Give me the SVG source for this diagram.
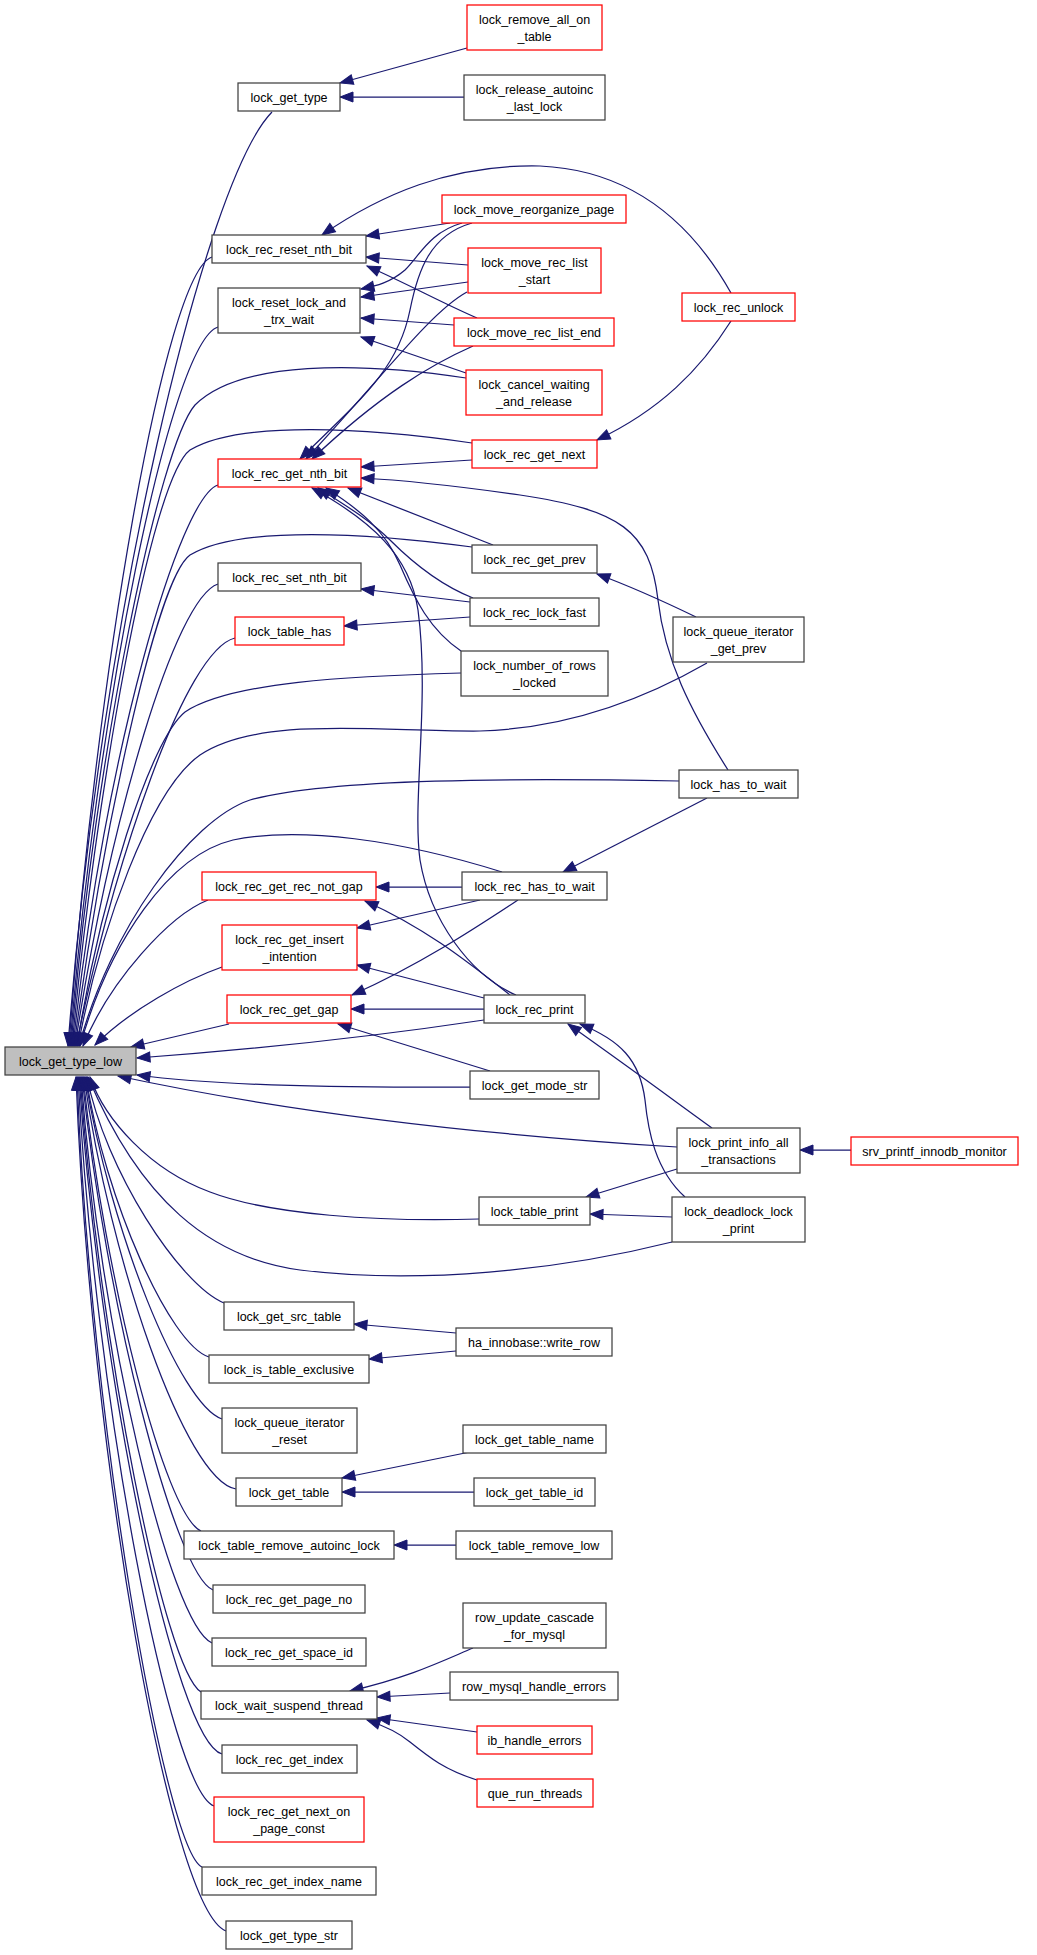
<svg xmlns="http://www.w3.org/2000/svg" width="1037" height="1955" viewBox="0 0 1037 1955">
<defs>
<style>
.n rect{fill:#ffffff;stroke:#404040;stroke-width:1.25}
.n.r rect{stroke:#ff0000}
.n.root rect{fill:#bfbfbf}
.n text{font-family:"Liberation Sans",Arial,Helvetica,sans-serif;font-size:12.5px;fill:#000000;text-anchor:middle}
#connectors path{fill:none;stroke:#191970;stroke-width:1.25;marker-end:url(#arr)}
</style>
<marker id="arr" markerUnits="userSpaceOnUse" viewBox="0 0 13 10" markerWidth="13" markerHeight="10" refX="13" refY="5" orient="auto" overflow="visible">
<path d="M0,0 L13,5 L0,10 z" fill="#191970" stroke="#191970" stroke-width="1"/>
</marker>
</defs>
<rect x="0" y="0" width="1037" height="1955" fill="#ffffff"/>
<g id="connectors">
<!-- to root, from above -->
<path d="M272,112 C205,180 100,620 68,1046"/>
<path d="M212,257 C165,272 95,680 69,1046"/>
<path d="M218,327 C170,342 95,720 70,1046"/>
<path d="M466,378 C360,362 240,360 195,405 C160,445 95,750 71,1046"/>
<path d="M472,443 C370,428 240,420 190,450 C150,480 95,800 72,1046"/>
<path d="M218,485 C180,497 105,750 73,1046"/>
<path d="M472,547 C370,533 240,525 190,555 C155,580 100,850 74,1046"/>
<path d="M218,584 C175,598 110,820 75,1046"/>
<path d="M235,638 C185,650 115,860 76,1046"/>
<path d="M461,673 C350,676 230,682 185,712 C150,740 100,900 77,1046"/>
<path d="M707,663 C660,690 580,728 480,731 C380,732 260,715 200,755 C150,790 100,930 78,1046"/>
<path d="M679,781 C520,778 330,778 250,800 C190,820 110,930 79,1046"/>
<path d="M502,872 C400,840 300,826 233,840 C170,855 110,940 80,1046"/>
<path d="M208,900 C170,915 110,980 83,1046"/>
<path d="M222,967 C185,980 130,1010 95,1045"/>
<path d="M229,1024 L131,1047"/>
<path d="M484,1020 C350,1040 220,1052 137,1058"/>
<!-- to root, from below -->
<path d="M470,1087 C350,1088 220,1086 137,1075"/>
<path d="M677,1147 C500,1136 300,1115 118,1076"/>
<path d="M479,1219 C380,1222 270,1215 210,1192 C150,1170 105,1120 90,1077"/>
<path d="M672,1242 C560,1270 420,1285 300,1270 C210,1258 140,1200 88,1077"/>
<path d="M224,1303 C180,1285 105,1170 87,1077"/>
<path d="M209,1357 C170,1345 105,1200 86,1077"/>
<path d="M222,1419 C180,1405 110,1230 85,1077"/>
<path d="M236,1489 C185,1480 110,1260 84,1077"/>
<path d="M201,1531 C165,1515 105,1280 83,1077"/>
<path d="M213,1590 C175,1575 105,1300 82,1077"/>
<path d="M212,1643 C170,1625 100,1330 81,1077"/>
<path d="M201,1692 C165,1670 100,1350 80,1077"/>
<path d="M222,1754 C175,1740 100,1380 79,1077"/>
<path d="M214,1806 C170,1790 95,1400 78,1077"/>
<path d="M202,1867 C165,1850 90,1420 77,1077"/>
<path d="M226,1931 C170,1910 90,1450 76,1077"/>
<!-- other edges -->
<path d="M467,48 L340,83"/>
<path d="M464,97 L340,97"/>
<path d="M731,293 C690,220 630,170 540,166 C450,164 380,195 322,235"/>
<path d="M450,223 L366,236"/>
<path d="M468,265 L366,257"/>
<path d="M477,318 C440,302 410,285 367,266"/>
<path d="M462,223 C430,232 420,255 405,270 C390,283 375,286 361,289"/>
<path d="M468,282 L361,297"/>
<path d="M454,325 L361,318"/>
<path d="M466,373 L361,337"/>
<path d="M472,223 C430,235 418,270 410,310 C398,370 360,400 300,459"/>
<path d="M467,292 C430,312 380,380 306,459"/>
<path d="M473,346 C430,365 380,395 312,459"/>
<path d="M472,460 L361,467"/>
<path d="M728,770 C690,710 665,660 658,600 C650,530 620,510 520,495 C450,485 400,480 361,478"/>
<path d="M731,321 C700,370 660,410 597,440"/>
<path d="M493,545 L348,488"/>
<path d="M473,598 C440,585 410,560 390,540 C370,520 345,505 318,488"/>
<path d="M461,651 C430,630 415,600 400,565 C385,530 360,510 326,488"/>
<path d="M516,995 C470,975 430,920 420,860 C412,800 430,700 418,610 C410,555 370,520 312,488"/>
<path d="M696,617 C665,602 635,588 597,574"/>
<path d="M470,602 L361,589"/>
<path d="M470,617 L344,626"/>
<path d="M462,887 L376,887"/>
<path d="M480,900 L357,928"/>
<path d="M518,900 C480,925 420,965 352,995"/>
<path d="M707,798 L563,872"/>
<path d="M510,995 C475,968 430,930 365,901"/>
<path d="M484,998 L357,965"/>
<path d="M484,1009 L351,1009"/>
<path d="M490,1071 L338,1024"/>
<path d="M712,1128 C680,1105 640,1075 568,1024"/>
<path d="M685,1197 C655,1170 648,1130 645,1100 C640,1060 620,1040 580,1024"/>
<path d="M851,1150 L800,1150"/>
<path d="M677,1169 L586,1197"/>
<path d="M672,1217 L590,1214"/>
<path d="M456,1333 L354,1324"/>
<path d="M456,1351 L369,1359"/>
<path d="M470,1452 L342,1478"/>
<path d="M474,1492 L342,1492"/>
<path d="M456,1545 L394,1545"/>
<path d="M473,1648 C440,1662 410,1677 350,1691"/>
<path d="M450,1693 L377,1697"/>
<path d="M477,1732 L377,1718"/>
<path d="M477,1780 C445,1770 430,1758 410,1742 C398,1732 385,1726 367,1720"/>
</g>
<g id="node_lock_get_type_low" class="n root"><rect x="5" y="1047" width="131" height="28"/><text x="70.5" y="1065.5">lock_get_type_low</text></g>
<g id="node_lock_get_type" class="n"><rect x="238" y="83" width="102" height="28"/><text x="289" y="101.5">lock_get_type</text></g>
<g id="node_lock_remove_all_on_table" class="n r"><rect x="467" y="5" width="135" height="45"/><text x="534.5" y="23.5">lock_remove_all_on</text><text x="534.5" y="40.5">_table</text></g>
<g id="node_lock_release_autoinc_last_lock" class="n"><rect x="464" y="75" width="141" height="45"/><text x="534.5" y="93.5">lock_release_autoinc</text><text x="534.5" y="110.5">_last_lock</text></g>
<g id="node_lock_rec_reset_nth_bit" class="n"><rect x="212" y="235" width="154" height="28"/><text x="289" y="253.5">lock_rec_reset_nth_bit</text></g>
<g id="node_lock_reset_lock_and_trx_wait" class="n"><rect x="218" y="288" width="142" height="45"/><text x="289" y="306.5">lock_reset_lock_and</text><text x="289" y="323.5">_trx_wait</text></g>
<g id="node_lock_move_reorganize_page" class="n r"><rect x="442" y="195" width="184" height="28"/><text x="534" y="213.5">lock_move_reorganize_page</text></g>
<g id="node_lock_move_rec_list_start" class="n r"><rect x="468" y="248" width="133" height="45"/><text x="534.5" y="266.5">lock_move_rec_list</text><text x="534.5" y="283.5">_start</text></g>
<g id="node_lock_move_rec_list_end" class="n r"><rect x="454" y="318" width="160" height="28"/><text x="534" y="336.5">lock_move_rec_list_end</text></g>
<g id="node_lock_cancel_waiting_and_release" class="n r"><rect x="466" y="370" width="136" height="45"/><text x="534" y="388.5">lock_cancel_waiting</text><text x="534" y="405.5">_and_release</text></g>
<g id="node_lock_rec_unlock" class="n r"><rect x="682" y="293" width="113" height="28"/><text x="738.5" y="311.5">lock_rec_unlock</text></g>
<g id="node_lock_rec_get_nth_bit" class="n r"><rect x="218" y="459" width="143" height="28"/><text x="289.5" y="477.5">lock_rec_get_nth_bit</text></g>
<g id="node_lock_rec_get_next" class="n r"><rect x="472" y="440" width="125" height="28"/><text x="534.5" y="458.5">lock_rec_get_next</text></g>
<g id="node_lock_rec_get_prev" class="n"><rect x="472" y="545" width="125" height="28"/><text x="534.5" y="563.5">lock_rec_get_prev</text></g>
<g id="node_lock_rec_set_nth_bit" class="n"><rect x="218" y="563" width="143" height="28"/><text x="289.5" y="581.5">lock_rec_set_nth_bit</text></g>
<g id="node_lock_rec_lock_fast" class="n"><rect x="470" y="598" width="129" height="28"/><text x="534.5" y="616.5">lock_rec_lock_fast</text></g>
<g id="node_lock_table_has" class="n r"><rect x="235" y="617" width="109" height="28"/><text x="289.5" y="635.5">lock_table_has</text></g>
<g id="node_lock_number_of_rows_locked" class="n"><rect x="461" y="651" width="147" height="45"/><text x="534.5" y="669.5">lock_number_of_rows</text><text x="534.5" y="686.5">_locked</text></g>
<g id="node_lock_queue_iterator_get_prev" class="n"><rect x="673" y="617" width="131" height="45"/><text x="738.5" y="635.5">lock_queue_iterator</text><text x="738.5" y="652.5">_get_prev</text></g>
<g id="node_lock_has_to_wait" class="n"><rect x="679" y="770" width="119" height="28"/><text x="738.5" y="788.5">lock_has_to_wait</text></g>
<g id="node_lock_rec_get_rec_not_gap" class="n r"><rect x="202" y="872" width="174" height="28"/><text x="289" y="890.5">lock_rec_get_rec_not_gap</text></g>
<g id="node_lock_rec_has_to_wait" class="n"><rect x="462" y="872" width="145" height="28"/><text x="534.5" y="890.5">lock_rec_has_to_wait</text></g>
<g id="node_lock_rec_get_insert_intention" class="n r"><rect x="222" y="925" width="135" height="45"/><text x="289.5" y="943.5">lock_rec_get_insert</text><text x="289.5" y="960.5">_intention</text></g>
<g id="node_lock_rec_get_gap" class="n r"><rect x="227" y="995" width="124" height="28"/><text x="289" y="1013.5">lock_rec_get_gap</text></g>
<g id="node_lock_rec_print" class="n"><rect x="484" y="995" width="101" height="28"/><text x="534.5" y="1013.5">lock_rec_print</text></g>
<g id="node_lock_get_mode_str" class="n"><rect x="470" y="1071" width="129" height="28"/><text x="534.5" y="1089.5">lock_get_mode_str</text></g>
<g id="node_lock_print_info_all_transactions" class="n"><rect x="677" y="1128" width="123" height="45"/><text x="738.5" y="1146.5">lock_print_info_all</text><text x="738.5" y="1163.5">_transactions</text></g>
<g id="node_srv_printf_innodb_monitor" class="n r"><rect x="851" y="1137" width="167" height="28"/><text x="934.5" y="1155.5">srv_printf_innodb_monitor</text></g>
<g id="node_lock_table_print" class="n"><rect x="479" y="1197" width="111" height="28"/><text x="534.5" y="1215.5">lock_table_print</text></g>
<g id="node_lock_deadlock_lock_print" class="n"><rect x="672" y="1197" width="133" height="45"/><text x="738.5" y="1215.5">lock_deadlock_lock</text><text x="738.5" y="1232.5">_print</text></g>
<g id="node_lock_get_src_table" class="n"><rect x="224" y="1302" width="130" height="28"/><text x="289" y="1320.5">lock_get_src_table</text></g>
<g id="node_ha_innobase_write_row" class="n"><rect x="456" y="1328" width="156" height="28"/><text x="534" y="1346.5">ha_innobase::write_row</text></g>
<g id="node_lock_is_table_exclusive" class="n"><rect x="209" y="1355" width="160" height="28"/><text x="289" y="1373.5">lock_is_table_exclusive</text></g>
<g id="node_lock_queue_iterator_reset" class="n"><rect x="222" y="1408" width="135" height="45"/><text x="289.5" y="1426.5">lock_queue_iterator</text><text x="289.5" y="1443.5">_reset</text></g>
<g id="node_lock_get_table_name" class="n"><rect x="463" y="1425" width="143" height="28"/><text x="534.5" y="1443.5">lock_get_table_name</text></g>
<g id="node_lock_get_table" class="n"><rect x="236" y="1478" width="106" height="28"/><text x="289" y="1496.5">lock_get_table</text></g>
<g id="node_lock_get_table_id" class="n"><rect x="474" y="1478" width="121" height="28"/><text x="534.5" y="1496.5">lock_get_table_id</text></g>
<g id="node_lock_table_remove_autoinc_lock" class="n"><rect x="184" y="1531" width="210" height="28"/><text x="289" y="1549.5">lock_table_remove_autoinc_lock</text></g>
<g id="node_lock_table_remove_low" class="n"><rect x="456" y="1531" width="156" height="28"/><text x="534" y="1549.5">lock_table_remove_low</text></g>
<g id="node_lock_rec_get_page_no" class="n"><rect x="213" y="1585" width="152" height="28"/><text x="289" y="1603.5">lock_rec_get_page_no</text></g>
<g id="node_row_update_cascade_for_mysql" class="n"><rect x="463" y="1603" width="143" height="45"/><text x="534.5" y="1621.5">row_update_cascade</text><text x="534.5" y="1638.5">_for_mysql</text></g>
<g id="node_lock_rec_get_space_id" class="n"><rect x="212" y="1638" width="154" height="28"/><text x="289" y="1656.5">lock_rec_get_space_id</text></g>
<g id="node_lock_wait_suspend_thread" class="n"><rect x="201" y="1691" width="176" height="28"/><text x="289" y="1709.5">lock_wait_suspend_thread</text></g>
<g id="node_row_mysql_handle_errors" class="n"><rect x="450" y="1672" width="168" height="28"/><text x="534" y="1690.5">row_mysql_handle_errors</text></g>
<g id="node_ib_handle_errors" class="n r"><rect x="477" y="1726" width="115" height="28"/><text x="534.5" y="1744.5">ib_handle_errors</text></g>
<g id="node_que_run_threads" class="n r"><rect x="477" y="1779" width="116" height="28"/><text x="535" y="1797.5">que_run_threads</text></g>
<g id="node_lock_rec_get_index" class="n"><rect x="222" y="1745" width="135" height="28"/><text x="289.5" y="1763.5">lock_rec_get_index</text></g>
<g id="node_lock_rec_get_next_on_page_const" class="n r"><rect x="214" y="1797" width="150" height="45"/><text x="289" y="1815.5">lock_rec_get_next_on</text><text x="289" y="1832.5">_page_const</text></g>
<g id="node_lock_rec_get_index_name" class="n"><rect x="202" y="1867" width="174" height="28"/><text x="289" y="1885.5">lock_rec_get_index_name</text></g>
<g id="node_lock_get_type_str" class="n"><rect x="226" y="1921" width="126" height="28"/><text x="289" y="1939.5">lock_get_type_str</text></g>
</svg>
